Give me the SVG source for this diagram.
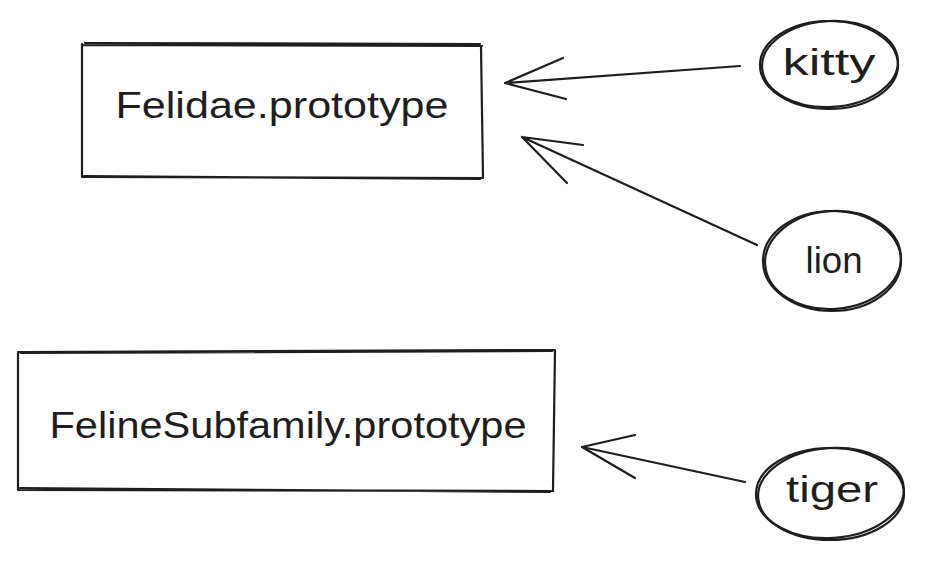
<svg xmlns="http://www.w3.org/2000/svg" width="925" height="565" viewBox="0 0 925 565">
<style>
.s{fill:none;stroke:#1e1e1e;stroke-width:2.2;stroke-linecap:round;stroke-linejoin:round}
.t{font-family:"Liberation Sans","DejaVu Sans",sans-serif;font-size:36px;fill:#1e1e1e;text-anchor:middle}
</style>
<rect width="925" height="565" fill="#ffffff"/>
<g id="felidae">
<path class="s" d="M83 45 L482 46 M82 44 L82 177 M481 46 L483 178 M82 177 L482 178 M85 43 L480 44 M84 176 L480 179"/>
<text class="t" x="282" y="118" textLength="333" lengthAdjust="spacingAndGlyphs">Felidae.prototype</text>
</g>
<g id="feline">
<path class="s" d="M19 352 L555 350 M18 352 L18 490 M555 350 L553 490 M18 490 L553 491 M21 353 L552 351 M20 488 L550 492"/>
<text class="t" x="288" y="438" textLength="477" lengthAdjust="spacingAndGlyphs">FelineSubfamily.prototype</text>
</g>
<g id="kitty">
<ellipse class="s" cx="829" cy="65" rx="69" ry="44"/>
<ellipse class="s" cx="830" cy="64" rx="68" ry="43" transform="rotate(-3 830 64)" stroke-width="1.3"/>
<text class="t" x="829" y="75" textLength="93" lengthAdjust="spacingAndGlyphs">kitty</text>
</g>
<g id="lion">
<ellipse class="s" cx="832" cy="261" rx="69" ry="50"/>
<ellipse class="s" cx="833" cy="260" rx="68" ry="49" transform="rotate(-4 833 260)" stroke-width="1.3"/>
<text class="t" x="834" y="273" textLength="57" lengthAdjust="spacingAndGlyphs">lion</text>
</g>
<g id="tiger">
<ellipse class="s" cx="830" cy="494" rx="74" ry="46"/>
<ellipse class="s" cx="831" cy="493" rx="73" ry="45" transform="rotate(-4 831 493)" stroke-width="1.3"/>
<text class="t" x="832" y="502" textLength="92" lengthAdjust="spacingAndGlyphs">tiger</text>
</g>
<g id="connectors">
<path class="s" d="M740 66 L505 83 M505 83 L563 58 M505 83 L566 99"/>
<path class="s" d="M757 245 L522 137 M522 137 L583 145 M522 137 L567 183"/>
<path class="s" d="M745 482 L582 447 M582 447 L635 435 M582 447 L635 478"/>
</g>
</svg>
